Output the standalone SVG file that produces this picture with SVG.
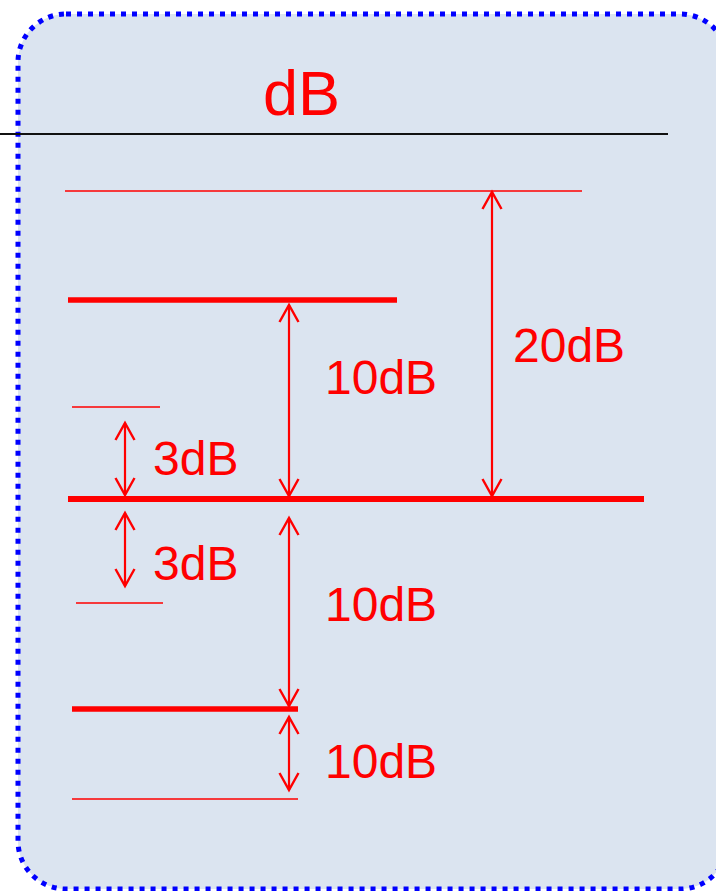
<svg xmlns="http://www.w3.org/2000/svg" width="716" height="891" viewBox="0 0 716 891">
  <style>
    .panel { fill: #DBE4F0; stroke: #0000FF; stroke-width: 5; stroke-dasharray: 5 6; }
    .rule { stroke: #111111; stroke-width: 1.8; }
    .thin { stroke: #FF0000; stroke-width: 1.6; }
    .thick { stroke: #FF0000; stroke-width: 5.5; }
    .dim { stroke: #FF0000; stroke-width: 2.2; fill: none; marker-start: url(#tip); marker-end: url(#tip); }
    .lbl { fill: #FF0000; font-family: "Liberation Sans", Arial, sans-serif; font-size: 48px; }
    .title { fill: #FF0000; font-family: "Liberation Sans", Arial, sans-serif; font-size: 63px; }
  </style>
  <defs>
    <marker id="tip" markerUnits="userSpaceOnUse" viewBox="-20 -12 24 24" refX="0" refY="0" markerWidth="24" markerHeight="24" orient="auto-start-reverse">
      <path d="M -17 -9.5 L 0 0 L -17 9.5" fill="none" stroke="#FF0000" stroke-width="2.4"/>
    </marker>
  </defs>

  <!-- panel background -->
  <rect class="panel" x="18" y="14" width="710" height="875" rx="48" ry="48"/>

  <!-- heading -->
  <g id="heading">
    <text class="title" x="263" y="115">dB</text>
    <line class="rule" x1="0" y1="134" x2="668" y2="134"/>
  </g>

  <!-- reference levels -->
  <g id="level-plus20"><line class="thin" x1="65" y1="191" x2="582" y2="191"/></g>
  <g id="level-plus10"><line class="thick" x1="68" y1="300" x2="397" y2="300"/></g>
  <g id="level-plus3"><line class="thin" x1="72" y1="407" x2="160" y2="407"/></g>
  <g id="level-zero"><line class="thick" x1="68" y1="499" x2="644" y2="499" style="stroke-width:6"/></g>
  <g id="level-minus3"><line class="thin" x1="76" y1="603" x2="163" y2="603"/></g>
  <g id="level-minus10"><line class="thick" x1="72" y1="709" x2="298" y2="709"/></g>
  <g id="level-minus20"><line class="thin" x1="72" y1="799" x2="298" y2="799"/></g>

  <!-- dimension arrows -->
  <g id="connectors">
    <line class="dim" x1="492" y1="192" x2="492" y2="496"/>
    <line class="dim" x1="289" y1="305" x2="289" y2="496"/>
    <line class="dim" x1="125" y1="423" x2="125" y2="495"/>
    <line class="dim" x1="125" y1="513" x2="125" y2="586"/>
    <line class="dim" x1="289" y1="518" x2="289" y2="706"/>
    <line class="dim" x1="289" y1="717" x2="289" y2="790"/>
  </g>

  <!-- dimension labels -->
  <g id="labels">
    <text class="lbl" x="513" y="362">20dB</text>
    <text class="lbl" x="325" y="394">10dB</text>
    <text class="lbl" x="153" y="475">3dB</text>
    <text class="lbl" x="153" y="580">3dB</text>
    <text class="lbl" x="325" y="621">10dB</text>
    <text class="lbl" x="325" y="778">10dB</text>
  </g>
</svg>
